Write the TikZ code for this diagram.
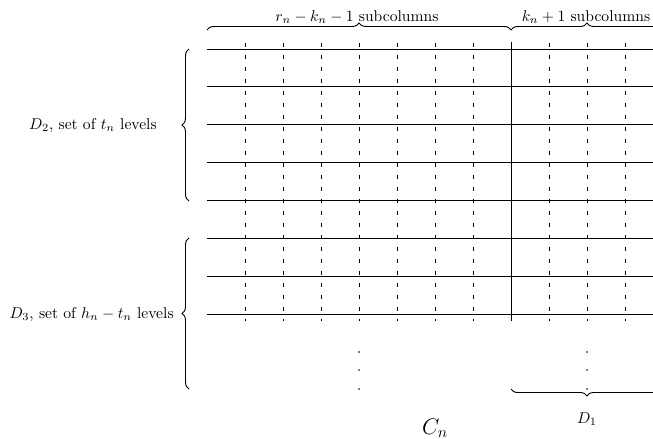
\documentclass[tikz,border=0pt]{standalone}
\usetikzlibrary{decorations.pathreplacing}
\begin{document}
\begin{tikzpicture}[x=0.64pt,y=-0.64pt,
  level/.style={line width=0.6pt},
  subcol/.style={line width=0.6pt, dash pattern=on 2.5pt off 5.18pt},
  divider/.style={line width=0.6pt},
  bracedeco/.style={decorate, decoration={brace, amplitude=4.5pt}, line width=0.6pt},
  bracedecomirror/.style={decorate, decoration={brace, mirror, amplitude=4.5pt}, line width=0.6pt},
  lbl/.style={inner sep=0pt},
  dotmark/.style={fill=black}]
\useasboundingbox (0,0) rectangle (653,439);
\clip (0,0) rectangle (653,439);
% levels (horizontal lines)
\foreach \k in {0,...,7} {
  \coordinate (L\k a) at (207,{49+37.9*\k});
  \coordinate (L\k b) at (663,{49+37.9*\k});
  \draw[level] (L\k a) -- (L\k b);
}
% subcolumns (vertical dashed lines)
\foreach \j in {0,...,6,8,9,10} {
  \coordinate (V\j t) at ({245+38*\j},43);
  \coordinate (V\j b) at ({245+38*\j},321);
  \draw[subcol] (V\j t) -- (V\j b);
}
% solid divider
\coordinate (Dt) at (511,42);
\coordinate (Db) at (511,321);
\draw[divider] (Dt) -- (Db);
% top braces
\coordinate (T0) at (207,30);
\coordinate (T1) at (511,30);
\coordinate (T2) at (663,30);
\draw[bracedeco] (T0) -- (T1);
\draw[bracedeco] (T1) -- (T2);
\node[lbl] (lab1) at (357,17) {$r_n-k_n-1$ subcolumns};
\node[lbl] (lab2) at (586,17) {$k_n+1$ subcolumns};
% left braces
\coordinate (B2b) at (189,201);
\coordinate (B2t) at (189,49);
\draw[bracedeco] (B2b) -- (B2t);
\node[lbl, anchor=east] (d2) at (157,125) {$D_2$, set of $t_n$ levels};
\coordinate (B3b) at (189,389);
\coordinate (B3t) at (189,238);
\draw[bracedeco] (B3b) -- (B3t);
\node[lbl, anchor=east] (d3) at (174,314) {$D_3$, set of $h_n-t_n$ levels};
% dots
\foreach \y in {352,370,389} {
  \fill[dotmark] (359,\y) circle (0.8);
  \fill[dotmark] (587,\y) circle (0.8);
}
% bottom brace
\coordinate (BB0) at (511,389);
\coordinate (BB1) at (663,389);
\draw[bracedecomirror] (BB0) -- (BB1);
\node[lbl] (d1) at (587,419) {$D_1$};
\node[lbl] (cn) at (435,428) {\Large $C_n$};
\end{tikzpicture}
\end{document}
